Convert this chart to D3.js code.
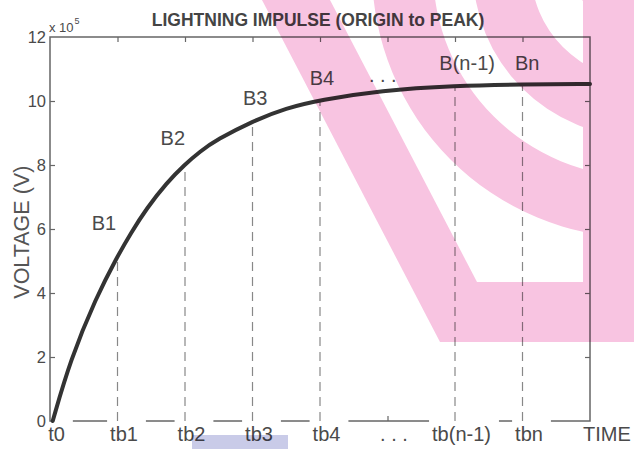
<!DOCTYPE html>
<html>
<head>
<meta charset="utf-8">
<script src="https://cdn.jsdelivr.net/npm/d3@7"></script>
<style>
  body { margin: 0; background: #fff; }
  svg  { display: block; font-family: "Liberation Sans", Arial, sans-serif; }
</style>
</head>
<body>
<svg id="chart" width="634" height="449"></svg>
<script>
// Lightning impulse, origin to peak — voltage (x 10^5 V) against time steps

// ─── Data ───────────────────────────────────────────────────────────────────
const timeValues    = [0.04, 0.3, 0.68, 1.0, 1.2, 1.43, 1.73, 2.0, 2.22, 2.47, 3.0, 3.5, 4.0, 4.9, 6.0, 7.0, 8.0];
const voltageValues = [0, 1.9, 3.85, 5.15, 5.88, 6.64, 7.45, 8.02, 8.42, 8.79, 9.37, 9.78, 10.03, 10.33, 10.48, 10.52, 10.53];

// dashed drop lines: time step and curve value at that step
const markerTimes    = [1, 2, 3, 4, 6, 7];
const markerVoltages = [5.12, 8.0, 9.36, 10.02, 10.48, 10.52];

// point labels along the curve (anchor in data units)
const pointLabels   = ['B1', 'B2', 'B3', 'B4', '. . .', 'B(n-1)', 'Bn'];
const pointLabelT   = [0.80, 1.82, 3.04, 4.03, 4.93, 6.18, 7.07];
const pointLabelV   = [5.97, 8.62, 9.87, 10.5, 10.6, 10.97, 10.97];

const xTickValues = [0, 1, 2, 3, 4, 5, 6, 7];
const xTickLabels = ['t0', 'tb1', 'tb2', 'tb3', 'tb4', '. . .', 'tb(n-1)', 'tbn'];
const yTickValues = [0, 2, 4, 6, 8, 10, 12];

// ─── Layout ─────────────────────────────────────────────────────────────────
const svg = d3.select('#chart');
const margin = { left: 50, right: 44, top: 37, bottom: 28 };
const W = 634 - margin.left - margin.right;
const H = 449 - margin.top - margin.bottom;

const x = d3.scaleLinear().domain([0, 8]).range([0, W]);
const y = d3.scaleLinear().domain([0, 12]).range([H, 0]);

const g = svg.append('g').attr('transform', `translate(${margin.left},${margin.top})`);

const AXIS = '#666';
const TEXT = '#4a4a4a';

// frame
g.append('rect')
  .attr('width', W).attr('height', H)
  .attr('fill', 'none').attr('stroke', AXIS).attr('stroke-width', 1.5);

// ticks (inward, MATLAB style)
const styleAxis = sel => {
  sel.select('.domain').remove();
  sel.selectAll('.tick line').attr('stroke', AXIS).attr('stroke-width', 1.2);
  sel.selectAll('.tick text').attr('fill', TEXT);
};

g.append('g')
  .call(d3.axisLeft(y).tickValues(yTickValues).tickSize(-5).tickPadding(4).tickFormat(d3.format('d')))
  .call(styleAxis)
  .call(s => s.selectAll('.tick text').attr('font-size', 16.5).attr('font-family', null));
g.selectAll('.tick').filter(d => d === 0 || d === 12).select('line').remove();

g.append('g').attr('transform', `translate(${W},0)`)
  .call(d3.axisRight(y).tickValues(yTickValues.slice(1, -1)).tickSize(-5).tickFormat(''))
  .call(styleAxis);

g.append('g')
  .call(d3.axisTop(x).tickValues(xTickValues.slice(1)).tickSize(-5).tickFormat(''))
  .call(styleAxis);

const xAxis = g.append('g').attr('transform', `translate(0,${H})`)
  .call(d3.axisBottom(x).tickValues(xTickValues).tickSize(-5).tickPadding(6)
    .tickFormat((d, i) => xTickLabels[i]))
  .call(styleAxis);
xAxis.selectAll('.tick text').attr('font-size', 20).attr('font-family', null).attr('dx', 6);
xAxis.selectAll('.tick').filter(d => d === 0).select('line').remove();

// white gaps in the bottom axis line behind each label
xAxis.selectAll('.tick').each(function (d, i) {
  if (xTickLabels[i].startsWith('.')) return;
  const t = d3.select(this);
  const bb = t.select('text').node().getBBox();
  const x0 = d === 0 ? 1.5 : bb.x - 3;
  t.insert('rect', 'text')
    .attr('x', x0).attr('y', -5)
    .attr('width', bb.x + bb.width + 8 - x0).attr('height', 10)
    .attr('fill', '#fff');
});

// dashed drop lines
g.append('g').selectAll('line')
  .data(markerTimes)
  .join('line')
  .attr('x1', d => x(d)).attr('x2', d => x(d))
  .attr('y1', y(0)).attr('y2', (d, i) => y(markerVoltages[i]))
  .attr('stroke', '#888').attr('stroke-width', 1.2)
  .attr('stroke-dasharray', '9,6');

// curve
const points = timeValues.map((t, i) => [t, voltageValues[i]]);
g.append('path')
  .datum(points)
  .attr('fill', 'none')
  .attr('stroke', '#333')
  .attr('stroke-width', 4)
  .attr('stroke-linecap', 'round')
  .attr('d', d3.line().x(d => x(d[0])).y(d => y(d[1])).curve(d3.curveBasis));

// point labels
g.append('g').selectAll('text')
  .data(pointLabels)
  .join('text')
  .attr('x', (d, i) => x(pointLabelT[i]))
  .attr('y', (d, i) => y(pointLabelV[i]))
  .attr('text-anchor', 'middle')
  .attr('font-size', 20)
  .attr('fill', TEXT)
  .text(d => d);

// x-axis name at the right end
g.append('text')
  .attr('x', W - 7).attr('y', H + 20)
  .attr('font-size', 20).attr('fill', TEXT)
  .text('TIME');

// y-axis name
svg.append('text')
  .attr('transform', `translate(22,${margin.top + y(5.9)}) rotate(-90)`)
  .attr('text-anchor', 'middle').attr('dominant-baseline', 'central')
  .attr('font-size', 21.5).attr('fill', '#555')
  .text('VOLTAGE (V)');

// exponent
const expo = svg.append('text')
  .attr('x', margin.left - 1).attr('y', margin.top - 5)
  .attr('font-size', 13).attr('fill', TEXT);
expo.append('tspan').text('x 10');
expo.append('tspan').attr('dy', -8).attr('dx', 1).attr('font-size', 9).text('5');

// title
svg.append('text')
  .attr('x', 318).attr('y', 26)
  .attr('text-anchor', 'middle')
  .attr('font-size', 17.5).attr('font-weight', 'bold').attr('fill', '#444')
  .text('LIGHTNING IMPULSE (ORIGIN to PEAK)');

// ─── Watermark (printed over the figure) ────────────────────────────────────
const wm = svg.append('g').style('mix-blend-mode', 'multiply');
const defs = svg.append('defs');
defs.append('clipPath').attr('id', 'cut')
  .append('path').attr('d', 'M330,0 L583,0 L583,282 L477,282 Z');

wm.append('path')
  .attr('d', 'M262,0 L634,0 L634,342 L440,342 Z')
  .attr('fill', '#f8c4e1');

const rings = [[268, 420], [167, 207], [65, 109]];
const ring = d3.arc().startAngle(0).endAngle(2 * Math.PI);
wm.append('g').attr('clip-path', 'url(#cut)')
  .selectAll('path')
  .data(rings)
  .join('path')
  .attr('transform', 'translate(640,-30)')
  .attr('d', d => ring.innerRadius(d[0]).outerRadius(d[1])())
  .attr('fill', '#fff');

wm.append('rect')
  .attr('x', 192).attr('y', 435).attr('width', 96).attr('height', 14)
  .attr('fill', '#c9cbe8');
</script>
</body>
</html>
